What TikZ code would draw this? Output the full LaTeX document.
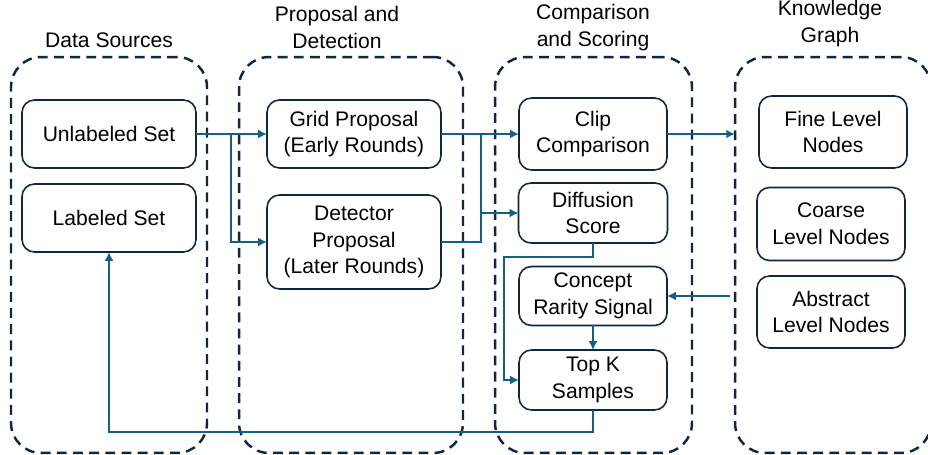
\documentclass[tikz,border=0pt]{standalone}
\usepackage{fontspec}
\setmainfont{Liberation Sans}
\usetikzlibrary{arrows.meta}
\definecolor{bordure}{HTML}{0E2841}
\definecolor{lien}{HTML}{156082}
\begin{document}
\begin{tikzpicture}[x=0.02cm,y=-0.02cm]
% Styles
\tikzstyle{fleche}=[-{Latex[length=5pt,width=5pt]},lien,line width=1.4pt]
\tikzstyle{trait}=[lien,line width=1.4pt]
\tikzstyle{groupe}=[draw=bordure,line width=1.4pt,dash pattern=on 5.6pt off 3.6pt,rounded corners=0.6cm,minimum height=7.92cm,inner sep=0pt,outer sep=0pt]
\tikzstyle{boite}=[draw=bordure,line width=0.9pt,rounded corners=0.25cm,align=center,inner sep=0pt,outer sep=0pt,font=\fontsize{12}{15.3}\selectfont]
\tikzstyle{titre}=[align=center,font=\fontsize{12}{15.3}\selectfont]
% Cadre
\useasboundingbox (0,0) rectangle (928,455);
% Groupes
\node[groupe,minimum width=3.92cm] (gSources) at (109,255) {};
\node[groupe,minimum width=4.48cm] (gPropos) at (351,255) {};
\node[groupe,minimum width=3.94cm] (gCompar) at (593.5,255) {};
\node[groupe,minimum width=3.92cm] (gGraphe) at (833,255) {};
% Titres
\node[titre] (tSources) at (109,40) {Data Sources};
\node[titre] (tPropos) at (337,27.5) {Proposal and\\Detection};
\node[titre] (tCompar) at (593,27.5) {Comparison\\and Scoring};
\node[titre] (tGraphe) at (830,23.5) {Knowledge\\Graph};
% Noeuds
\node[boite,minimum width=3.48cm,minimum height=1.36cm] (unlab) at (109,134) {Unlabeled Set};
\node[boite,minimum width=3.48cm,minimum height=1.36cm] (lab) at (109,218) {Labeled Set};
\node[boite,minimum width=3.48cm,minimum height=1.36cm] (grid) at (354,134) {Grid Proposal\\(Early Rounds)};
\node[boite,minimum width=3.48cm,minimum height=1.88cm] (det) at (354,242) {Detector\\Proposal\\(Later Rounds)};
\node[boite,minimum width=2.96cm,minimum height=1.44cm] (clip) at (593,134) {Clip\\Comparison};
\node[boite,minimum width=2.98cm,minimum height=1.2cm] (diff) at (593,213) {Diffusion\\Score};
\node[boite,minimum width=2.96cm,minimum height=1.18cm] (concept) at (593,296) {Concept\\Rarity Signal};
\node[boite,minimum width=2.96cm,minimum height=1.2cm] (topk) at (593,380) {Top K\\Samples};
\node[boite,minimum width=2.96cm,minimum height=1.44cm] (fine) at (833,132) {Fine Level\\Nodes};
\node[boite,minimum width=2.96cm,minimum height=1.46cm] (coarse) at (831,224) {Coarse\\Level Nodes};
\node[boite,minimum width=2.96cm,minimum height=1.44cm] (abstract) at (831,312) {Abstract\\Level Nodes};
% Points de passage
\coordinate (b1) at (231,134);
\coordinate (b2) at (481,134);
\coordinate (c1) at (504,257);
\coordinate (c2) at (593,432);
% Arcs
\draw[fleche] (unlab) -- (grid);
\draw[fleche] (b1) |- (det);
\draw[fleche] (grid) -- (clip);
\draw[trait] (det) -| (b2);
\draw[fleche] (b2) |- (diff);
\draw[fleche] (clip) -- (clip -| gGraphe.west);
\draw[fleche] ([xshift=-0.1cm]concept -| gGraphe.west) -- (concept);
\draw[fleche] (concept) -- (topk);
\draw[fleche] (diff) |- (c1) |- (topk);
\draw[fleche] (topk) -- (c2) -| (lab);
\end{tikzpicture}
\end{document}
